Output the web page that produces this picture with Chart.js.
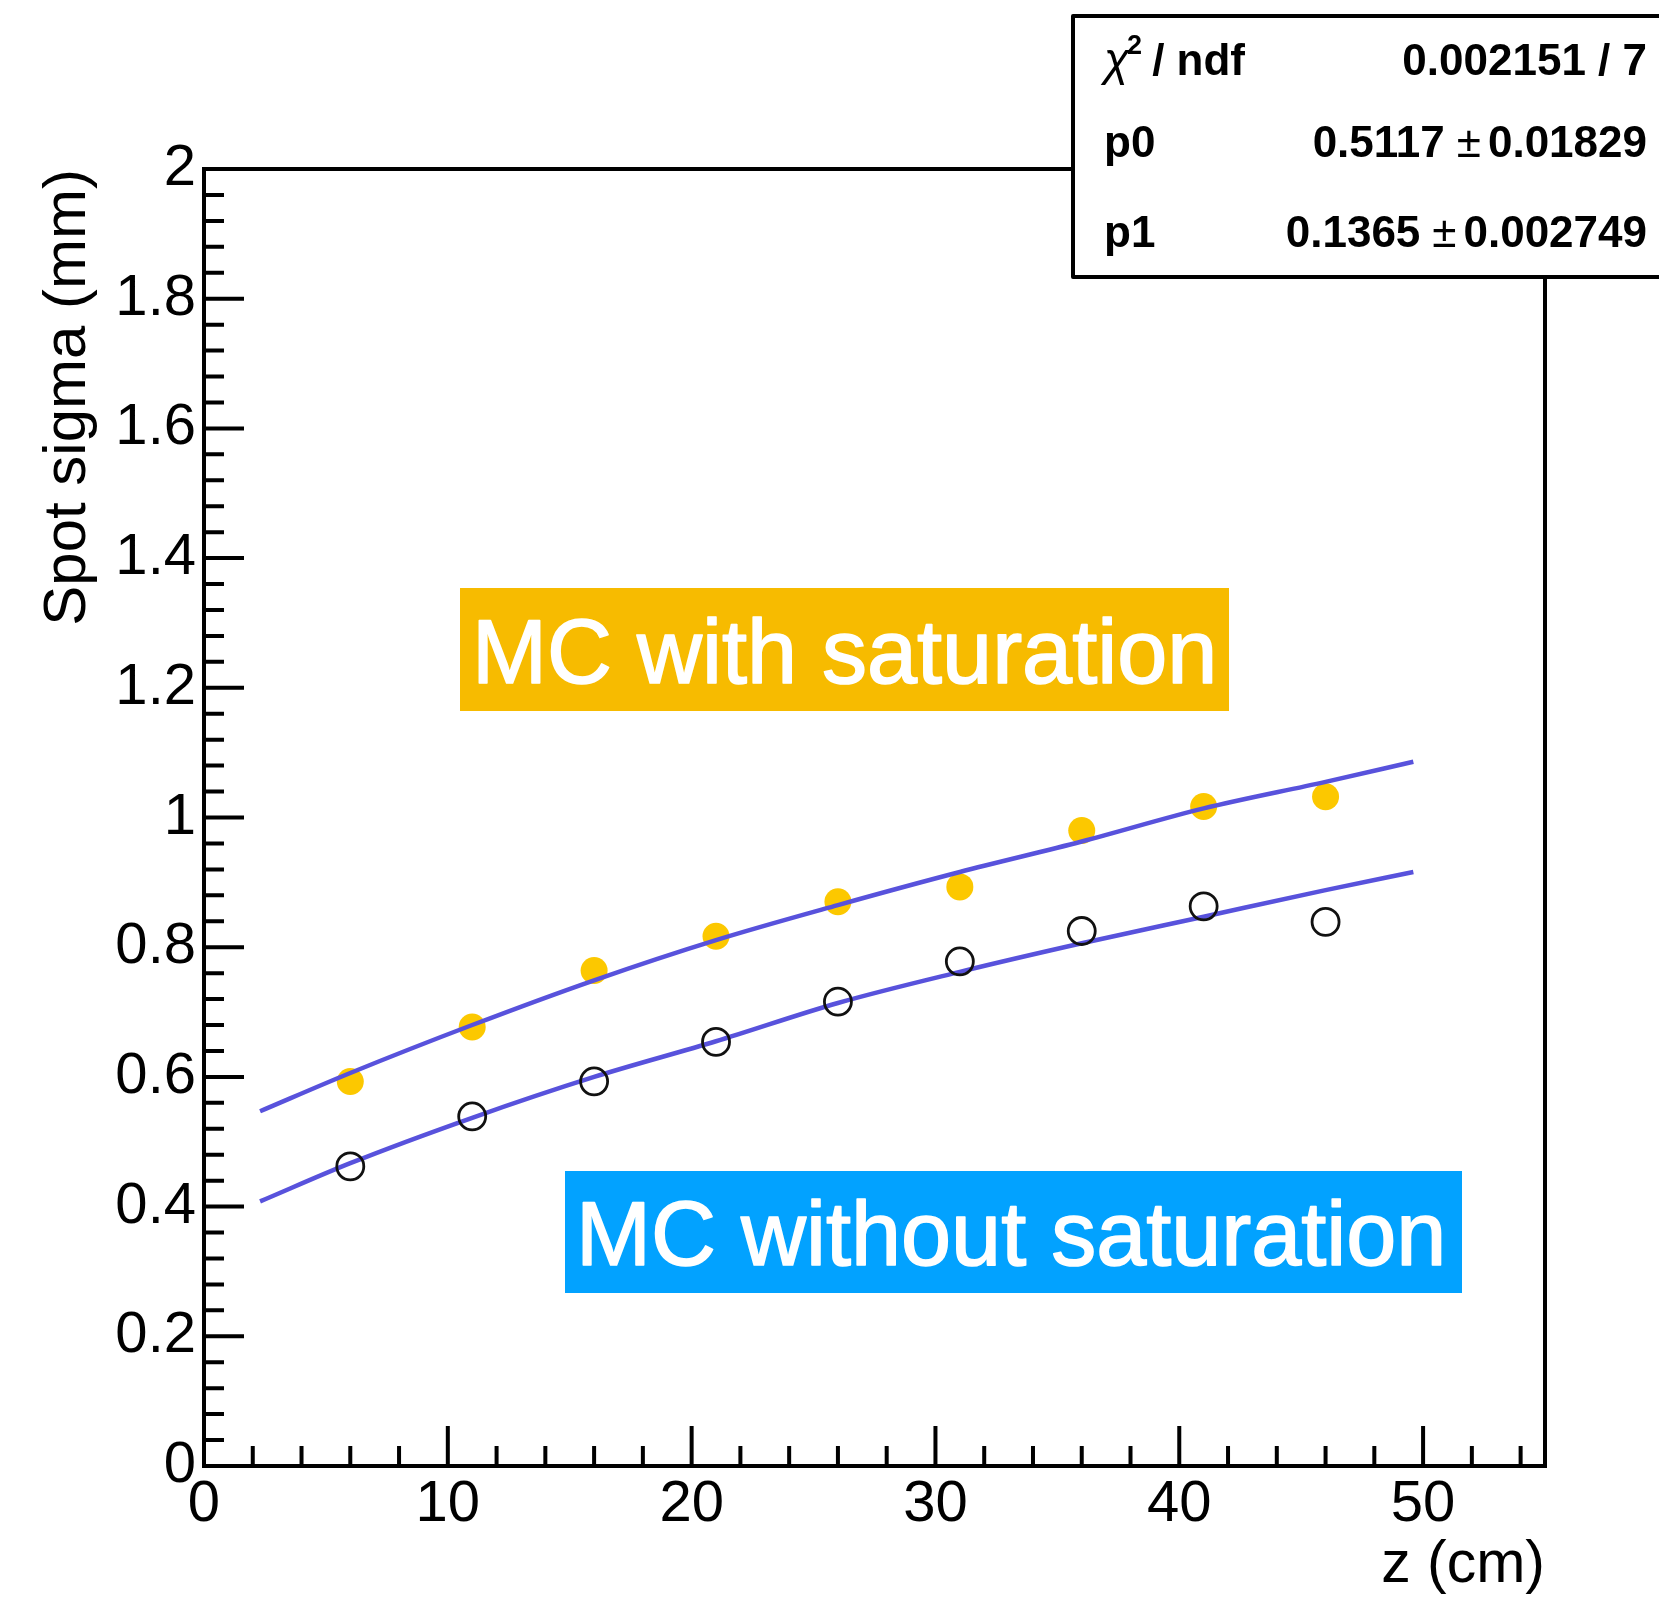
<!DOCTYPE html>
<html>
<head>
<meta charset="utf-8">
<script src="https://cdn.jsdelivr.net/npm/chart.js@4.4.1/dist/chart.umd.min.js"></script>
<style>
  html, body { margin: 0; padding: 0; background: #fff; }
  #wrap { width: 1659px; height: 1601px; }
</style>
</head>
<body>
<div id="wrap"><canvas id="spotChart" width="1659" height="1601"></canvas></div>
<script>
// z positions of the spots (cm)
const zPoints = [6, 11, 16, 21, 26, 31, 36, 41, 46];
// spot sigma (mm), MC with saturation
const sigmaSat = [0.593, 0.677, 0.764, 0.817, 0.870, 0.893, 0.980, 1.017, 1.032];
// spot sigma (mm), MC without saturation
const sigmaNoSat = [0.462, 0.539, 0.593, 0.654, 0.716, 0.778, 0.825, 0.863, 0.839];

// fit curves sampled along the fit range
const fitZ = [2.3, 6, 11, 16, 21, 26, 31, 36, 41, 46, 49.6];
const fitSat = [0.547, 0.606, 0.680, 0.749, 0.811, 0.865, 0.916, 0.963, 1.014, 1.055, 1.086];
const fitNoSat = [0.408, 0.467, 0.537, 0.600, 0.655, 0.714, 0.762, 0.806, 0.847, 0.888, 0.916];

const xTickValues = [0, 10, 20, 30, 40, 50];
const xTickLabels = ['0', '10', '20', '30', '40', '50'];
const yTickValues = [0, 0.2, 0.4, 0.6, 0.8, 1, 1.2, 1.4, 1.6, 1.8, 2];
const yTickLabels = ['0', '0.2', '0.4', '0.6', '0.8', '1', '1.2', '1.4', '1.6', '1.8', '2'];

// fit statistics box
const statNames = ['/ ndf', 'p0', 'p1'];
const statValues = ['0.002151 / 7', '0.5117', '0.1365'];
const statErrors = [null, '0.01829', '0.002749'];

const FONT = "'Liberation Sans', Arial, Helvetica, sans-serif";
const toXY = (xs, ys) => xs.map((x, i) => ({ x: x, y: ys[i] }));

// ROOT style frame with inward ticks
const rootFrame = {
  id: 'rootFrame',
  afterDatasetsDraw(chart) {
    const { ctx, chartArea: a, scales: { x, y } } = chart;
    ctx.save();
    ctx.strokeStyle = '#000';
    ctx.lineWidth = 4;
    ctx.beginPath();
    for (let i = 0; i <= 50; i++) {
      const py = y.getPixelForValue(i * 0.04);
      const len = i % 5 === 0 ? 40 : 20;
      ctx.moveTo(a.left, py);
      ctx.lineTo(a.left + len, py);
    }
    for (let i = 0; i <= 27; i++) {
      const px = x.getPixelForValue(i * 2);
      const len = i % 5 === 0 ? 40 : 20;
      ctx.moveTo(px, a.bottom);
      ctx.lineTo(px, a.bottom - len);
    }
    ctx.stroke();
    ctx.lineWidth = 4;
    ctx.strokeRect(a.left, a.top, a.right - a.left, a.bottom - a.top);
    ctx.restore();
  }
};

// coloured captions and the fit statistics box
const overlays = {
  id: 'overlays',
  afterDraw(chart) {
    const ctx = chart.ctx;
    ctx.save();

    const caption = (text, bg, x0, y0, x1, y1, tx, ty) => {
      ctx.fillStyle = bg;
      ctx.fillRect(x0, y0, x1 - x0, y1 - y0);
      ctx.fillStyle = '#fff';
      ctx.strokeStyle = '#fff';
      ctx.lineWidth = 1.6;
      ctx.lineJoin = 'round';
      ctx.font = '90px ' + FONT;
      ctx.textAlign = 'left';
      ctx.textBaseline = 'alphabetic';
      ctx.fillText(text, tx, ty);
      ctx.strokeText(text, tx, ty);
    };
    caption('MC with saturation', '#f7bb00', 460, 588, 1229, 711, 472, 683);
    caption('MC without saturation', '#02a2ff', 565, 1171, 1462, 1293, 576, 1265);

    // stats box, runs off the right edge
    ctx.fillStyle = '#fff';
    ctx.fillRect(1073, 16, 640, 261);
    ctx.strokeStyle = '#000';
    ctx.lineWidth = 4;
    ctx.strokeRect(1073, 16, 640, 261);

    const rows = [75, 157, 247];
    const right = 1647;
    ctx.fillStyle = '#000';
    ctx.textBaseline = 'alphabetic';
    rows.forEach((by, i) => {
      ctx.textAlign = 'left';
      let lx = 1104;
      if (i === 0) {
        ctx.font = 'italic 46px ' + FONT;
        ctx.fillText('\u03c7', lx, by);
        lx += ctx.measureText('\u03c7').width;
        ctx.font = 'bold 27px ' + FONT;
        ctx.fillText('2', lx - 2, by - 21);
        lx += ctx.measureText('2').width + 8;
      }
      ctx.font = 'bold 44px ' + FONT;
      ctx.fillText(statNames[i], lx, by);

      ctx.textAlign = 'right';
      if (statErrors[i] === null) {
        ctx.fillText(statValues[i], right, by);
      } else {
        ctx.fillText(statErrors[i], right, by);
        let rx = right - ctx.measureText(statErrors[i]).width - 7;
        ctx.font = '44px ' + FONT;
        ctx.fillText('\u00b1', rx, by);
        rx -= ctx.measureText('\u00b1').width + 12;
        ctx.font = 'bold 44px ' + FONT;
        ctx.fillText(statValues[i], rx, by);
      }
    });
    ctx.restore();
  }
};

new Chart(document.getElementById('spotChart'), {
  type: 'scatter',
  data: {
    datasets: [
      {
        label: 'MC without saturation',
        data: toXY(zPoints, sigmaNoSat),
        pointStyle: 'circle',
        pointRadius: 13.5,
        pointBorderWidth: 2.8,
        pointBorderColor: '#111',
        pointBackgroundColor: 'rgba(0,0,0,0)',
        order: 1
      },
      {
        label: 'fit with saturation',
        data: toXY(fitZ, fitSat),
        showLine: true,
        pointRadius: 0,
        borderColor: '#5852dc',
        borderWidth: 4.5,
        cubicInterpolationMode: 'monotone',
        order: 2
      },
      {
        label: 'fit without saturation',
        data: toXY(fitZ, fitNoSat),
        showLine: true,
        pointRadius: 0,
        borderColor: '#5852dc',
        borderWidth: 4.5,
        cubicInterpolationMode: 'monotone',
        order: 2
      },
      {
        label: 'MC with saturation',
        data: toXY(zPoints, sigmaSat),
        pointStyle: 'circle',
        pointRadius: 13.5,
        pointBorderWidth: 0,
        pointBackgroundColor: '#fcc800',
        order: 3
      }
    ]
  },
  options: {
    responsive: false,
    animation: false,
    events: [],
    layout: { padding: { top: 169, right: 114, left: 0, bottom: 0 } },
    plugins: { legend: { display: false }, tooltip: { enabled: false } },
    scales: {
      x: {
        type: 'linear',
        min: 0,
        max: 55,
        border: { display: false },
        grid: { display: false, drawTicks: false },
        afterBuildTicks: (scale) => { scale.ticks = xTickValues.map(v => ({ value: v })); },
        afterFit: (scale) => { scale.height = 135; },
        ticks: {
          autoSkip: false,
          maxRotation: 0,
          padding: 4,
          color: '#000',
          font: { family: FONT, size: 58 },
          callback: (v) => xTickLabels[xTickValues.indexOf(v)]
        },
        title: {
          display: true,
          text: 'z (cm)',
          align: 'end',
          color: '#000',
          font: { family: FONT, size: 59 },
          padding: { top: 0, bottom: 0 }
        }
      },
      y: {
        type: 'linear',
        min: 0,
        max: 2,
        border: { display: false },
        grid: { display: false, drawTicks: false },
        afterBuildTicks: (scale) => { scale.ticks = yTickValues.map(v => ({ value: v })); },
        afterFit: (scale) => { scale.width = 204; },
        ticks: {
          autoSkip: false,
          padding: 8,
          color: '#000',
          font: { family: FONT, size: 58 },
          callback: (v) => yTickLabels[yTickValues.findIndex(t => Math.abs(t - v) < 1e-9)]
        },
        title: {
          display: true,
          text: 'Spot sigma (mm)',
          align: 'end',
          color: '#000',
          font: { family: FONT, size: 60 },
          padding: { top: 32, bottom: 0 }
        }
      }
    }
  },
  plugins: [rootFrame, overlays]
});
</script>
</body>
</html>
